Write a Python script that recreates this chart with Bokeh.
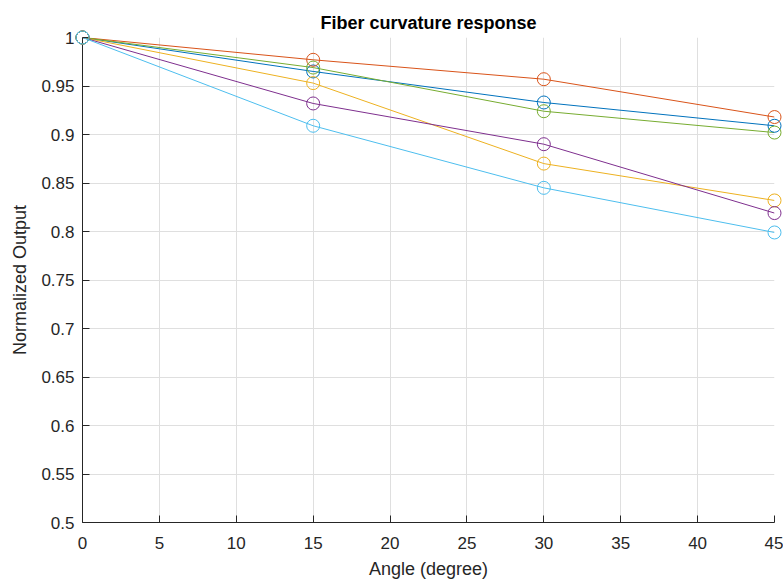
from bokeh.plotting import figure
from bokeh.models import FixedTicker, Range1d
from bokeh.embed import file_html
from bokeh.resources import INLINE

angle = [0, 15, 30, 45]
s_blue = [1.0, 0.965, 0.933, 0.909]
s_orange = [1.0, 0.977, 0.957, 0.918]
s_yellow = [1.0, 0.953, 0.870, 0.832]
s_purple = [1.0, 0.932, 0.890, 0.819]
s_green = [1.0, 0.969, 0.924, 0.902]
s_cyan = [1.0, 0.909, 0.845, 0.799]

series = [s_blue, s_orange, s_yellow, s_purple, s_green, s_cyan]
colors = ["#0072BD", "#D95319", "#EDB120", "#7E2F8E", "#77AC30", "#4DBEEE"]

x_ticks = [0, 5, 10, 15, 20, 25, 30, 35, 40, 45]
y_ticks = [0.5, 0.55, 0.6, 0.65, 0.7, 0.75, 0.8, 0.85, 0.9, 0.95, 1.0]
y_tick_labels = {0.5: "0.5", 0.55: "0.55", 0.6: "0.6", 0.65: "0.65", 0.7: "0.7",
                 0.75: "0.75", 0.8: "0.8", 0.85: "0.85", 0.9: "0.9", 0.95: "0.95", 1.0: "1"}
x_label = "Angle (degree)"
y_label = "Normalized Output"
title = "Fiber curvature response"

FONT = "Liberation Sans"
TXT = "#262626"

p = figure(width=783, height=582, output_backend="svg", toolbar_location=None,
           x_range=Range1d(0, 45), y_range=Range1d(0.5, 1.0),
           title=title,
           min_border_left=82, min_border_right=9, min_border_top=37, min_border_bottom=60)
p.outline_line_color = None
p.background_fill_color = "white"
p.border_fill_color = "white"

p.title.align = "center"
p.title.text_font = FONT
p.title.text_font_size = "18px"
p.title.text_font_style = "bold"
p.title.text_color = "black"
p.title.offset = 0
p.title.standoff = 9

for ax in (p.xaxis[0], p.yaxis[0]):
    ax.major_tick_in = 7
    ax.major_tick_out = 0
    ax.minor_tick_in = 0
    ax.minor_tick_out = 0
    ax.axis_line_color = TXT
    ax.major_tick_line_color = TXT
    ax.major_label_text_font = FONT
    ax.major_label_text_font_size = "17px"
    ax.major_label_text_color = TXT
    ax.axis_label_text_font = FONT
    ax.axis_label_text_font_size = "18px"
    ax.axis_label_text_font_style = "normal"
    ax.axis_label_text_color = TXT

p.xaxis.ticker = FixedTicker(ticks=x_ticks)
p.yaxis.ticker = FixedTicker(ticks=y_ticks)
p.yaxis.major_label_overrides = y_tick_labels
p.xaxis.axis_label = x_label
p.yaxis.axis_label = y_label
p.xaxis.major_label_standoff = 14
p.yaxis.major_label_standoff = 8
p.xaxis.axis_label_standoff = 7
p.yaxis.axis_label_standoff = 8

p.xgrid.ticker = FixedTicker(ticks=x_ticks)
p.ygrid.ticker = FixedTicker(ticks=y_ticks)
for g in (p.xgrid[0], p.ygrid[0]):
    g.grid_line_color = "#dfdfdf"
    g.grid_line_width = 1

for ys, c in zip(series, colors):
    p.line(angle, ys, line_color=c, line_width=1)
    p.scatter(angle, ys, marker="circle", size=13, fill_color=None, line_color=c,
              line_width=1, level="overlay")

open("out.html", "w").write(file_html(p, INLINE))
